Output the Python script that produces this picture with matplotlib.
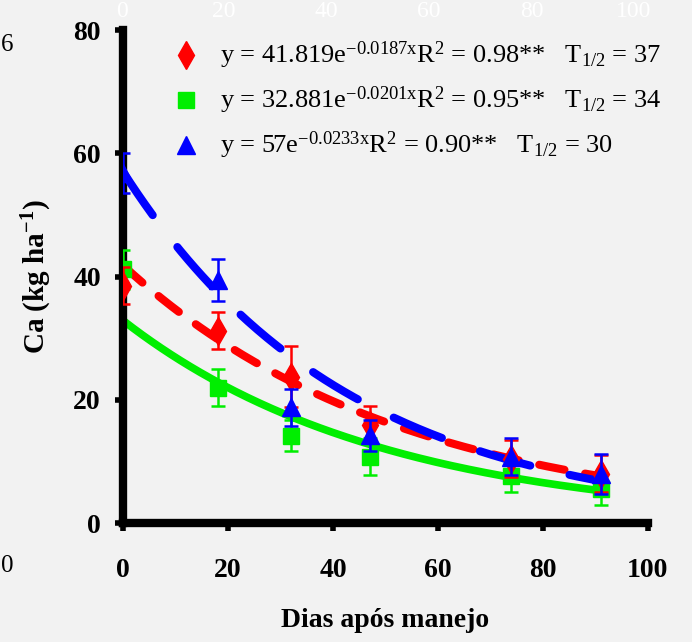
import numpy as np
import matplotlib
matplotlib.use("Agg")
import matplotlib.pyplot as plt

plt.rcParams['font.family'] = ['Liberation Serif', 'DejaVu Serif']
plt.rcParams['mathtext.fontset'] = 'custom'
plt.rcParams['mathtext.rm'] = 'Liberation Serif'
plt.rcParams['mathtext.it'] = 'Liberation Serif'
plt.rcParams['mathtext.bf'] = 'Liberation Serif:bold'
plt.rcParams['mathtext.default'] = 'regular'

# sampling days
days = [0, 18, 32, 47, 74, 91]

# Ca remaining (kg/ha) and error bars per treatment
red_vals = [38.5, 31.2, 23.8, 16.0, 10.5, 8.0]
red_err = [3.0, 3.0, 5.0, 3.0, 3.0, 3.0]
green_vals = [41.2, 22.0, 14.2, 10.8, 7.6, 5.5]
green_err = [3.2, 3.0, 2.5, 3.0, 2.6, 2.6]
blue_vals = [56.8, 39.5, 18.8, 14.3, 10.8, 8.0]
blue_err = [3.2, 3.4, 3.0, 2.5, 3.0, 3.2]

# fitted model coefficients (y = a*exp(b*x)) as printed on the chart
red_fit = (41.819, -0.0187)
green_fit = (32.881, -0.0201)
blue_fit = (57.0, -0.0233)

legend_labels = [
    r"y = 41.819e$^{-0.0187x}$R$^{2}$ = 0.98**   T$_{1/2}$ = 37",
    r"y = 32.881e$^{-0.0201x}$R$^{2}$ = 0.95**   T$_{1/2}$ = 34",
    r"y = 57e$^{-0.0233x}$R$^{2}$ = 0.90**   T$_{1/2}$ = 30",
]

xticks = [0, 20, 40, 60, 80, 100]
yticks = [0, 20, 40, 60, 80]

RED = '#ff0000'
GREEN = '#00ee00'
BLUE = '#0000ff'
BG = '#f2f2f2'

fig = plt.figure(figsize=(6.92, 6.42), dpi=100, facecolor=BG)
ax = fig.add_axes([0.178, 0.185, 0.758, 0.768], facecolor=BG)

xs = np.linspace(0, 91, 200)

# fitted curves
ax.plot(xs, green_fit[0] * np.exp(green_fit[1] * xs), color=GREEN, lw=5.5,
        solid_capstyle='round', zorder=2)
ax.plot(xs, red_fit[0] * np.exp(red_fit[1] * xs), color=RED, lw=5.8,
        dashes=(3.2, 2.6), dash_capstyle='round', zorder=3)
ax.plot(xs, blue_fit[0] * np.exp(blue_fit[1] * xs), color=BLUE, lw=5.8,
        dashes=(6.5, 5.0), dash_capstyle='round', zorder=4)

# observations with error bars
ax.errorbar(days, green_vals, yerr=green_err, fmt='s', color=GREEN, ms=11,
            capsize=5, elinewidth=1.8, capthick=1.8, zorder=5)
ax.errorbar(days, red_vals, yerr=red_err, fmt='d', color=RED, ms=14,
            capsize=5, elinewidth=1.8, capthick=1.8, zorder=6)
ax.errorbar(days, blue_vals, yerr=blue_err, fmt='^', color=BLUE, ms=13,
            capsize=5, elinewidth=1.8, capthick=1.8, zorder=7)

ax.set_xlim(0, 100)
ax.set_ylim(0, 80)
ax.set_xticks(xticks)
ax.set_yticks(yticks)
for s in ['top', 'right']:
    ax.spines[s].set_visible(False)
for s in ['left', 'bottom']:
    ax.spines[s].set_linewidth(6)
    ax.spines[s].set_capstyle('projecting')
ax.tick_params(direction='out', length=6, width=4, labelsize=20)
ax.tick_params(axis='x', pad=19)
ax.tick_params(axis='y', pad=10)
for lab in ax.get_xticklabels() + ax.get_yticklabels():
    lab.set_fontweight('bold')

ax.set_xlabel('Dias após manejo', fontsize=20, fontweight='bold', labelpad=18)
ax.set_ylabel(r'Ca (kg ha$^{\mathbf{-1}}$)', fontsize=21, fontweight='bold',
              labelpad=14)

# equation legend
leg_marks = ['d', 's', '^']
leg_cols = [RED, GREEN, BLUE]
leg_ms = [14, 11, 13]
for i, (lab, m, c, ms) in enumerate(zip(legend_labels, leg_marks, leg_cols, leg_ms)):
    yy = 0.914 - 0.07 * i
    fig.lines.append(plt.Line2D([0.269], [yy], marker=m, color=c, ms=ms,
                                transform=fig.transFigure, ls='none'))
    fig.text(0.318, yy, lab, fontsize=19, va='center', ha='left')

# faint leftovers of a neighbouring panel
for i, t in enumerate(['0', '20', '40', '60', '80', '100']):
    fig.text(0.176 + 0.148 * i, 0.982, t, color='white', fontsize=17,
             ha='center', va='center')
fig.text(0.001, 0.93, '6', fontsize=18, ha='left', va='center')
fig.text(0.001, 0.118, '0', fontsize=18, ha='left', va='center')

fig.savefig('out.png', dpi=100, facecolor=BG)
